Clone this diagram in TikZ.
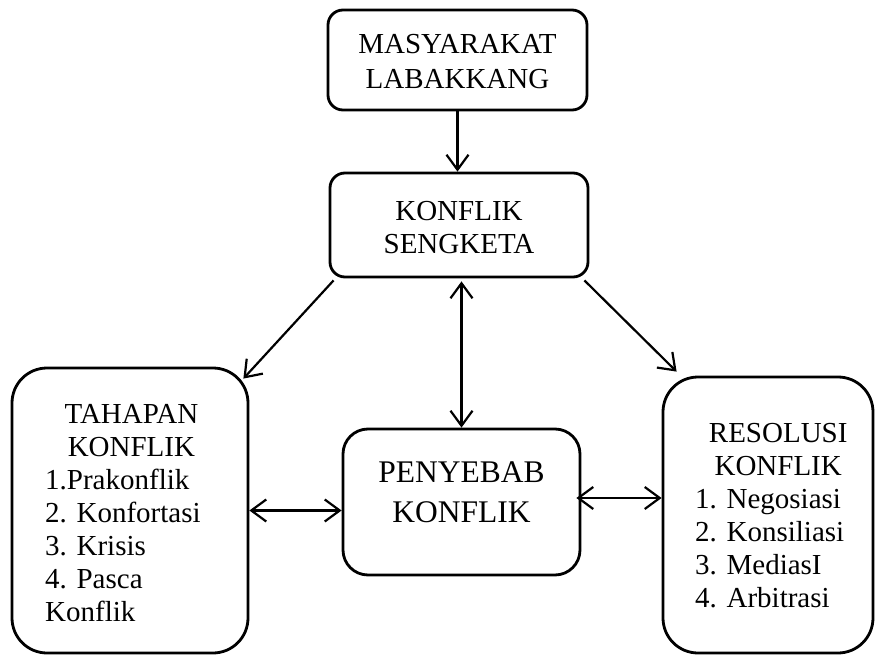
\documentclass[tikz,border=0pt]{standalone}
\usepackage{fontspec}
\setmainfont{Liberation Serif}
\usetikzlibrary{arrows.meta}
\begin{document}
\begin{tikzpicture}[x=1pt,y=-1pt,
  box/.style={draw,line width=2.8pt,inner sep=0pt},
  arr/.style={line width=2.2pt,-{Straight Barb[length=15pt,width=22pt,line width=2.2pt]}},
  darr/.style={line width=2.2pt,{Straight Barb[length=15pt,width=22pt,line width=2.2pt]}-{Straight Barb[length=15pt,width=22pt,line width=2.2pt]}},
  txt/.style={inner sep=0pt,font=\fontsize{29}{33}\selectfont},
]
\useasboundingbox (0,0) rectangle (876,655);
% boxes
\node[box,rounded corners=15pt,minimum width=259pt,minimum height=100pt] (mas) at (457.5,60) {};
\node[box,rounded corners=15pt,minimum width=258pt,minimum height=104pt] (kon) at (459,225) {};
\node[box,rounded corners=35pt,minimum width=236pt,minimum height=285pt] (tah) at (130,510.5) {};
\node[box,rounded corners=25pt,minimum width=237pt,minimum height=146pt] (pen) at (461.5,502) {};
\node[box,rounded corners=35pt,minimum width=210pt,minimum height=276pt] (res) at (768,515) {};
% texts
\node[txt,font=\fontsize{29}{35}\selectfont,anchor=north] (mast) at (457.5,28.5)
  {\begin{tabular}{@{}c@{}}MASYARAKAT\\LABAKKANG\end{tabular}};
\node[txt,anchor=north] (kont) at (459,197)
  {\begin{tabular}{@{}c@{}}KONFLIK\\SENGKETA\end{tabular}};
\node[txt,font=\fontsize{31.5}{40}\selectfont,anchor=north] (pent) at (461.5,454)
  {\begin{tabular}{@{}c@{}}PENYEBAB\\KONFLIK\end{tabular}};
\node[txt,anchor=north west] (taht) at (45,400)
  {\begin{tabular}{@{}l@{}}
   \multicolumn{1}{@{\hspace{8.5pt}}c@{\hspace{-8.5pt}}}{TAHAPAN}\\
   \multicolumn{1}{@{\hspace{8.5pt}}c@{\hspace{-8.5pt}}}{KONFLIK}\\
   1.Prakonflik\\2. Konfortasi\\3. Krisis\\4. Pasca\\Konflik\end{tabular}};
\node[txt,anchor=north west] (rest) at (695,419)
  {\begin{tabular}{@{}l@{}}
   \multicolumn{1}{@{\hspace{8.5pt}}c@{\hspace{-8.5pt}}}{RESOLUSI}\\
   \multicolumn{1}{@{\hspace{8.5pt}}c@{\hspace{-8.5pt}}}{KONFLIK}\\
   1. Negosiasi\\2. Konsiliasi\\3. MediasI\\4. Arbitrasi\end{tabular}};
% connectors
\draw[arr] (mas.south) -- (mas.south |- kon.north);
\draw[arr] ([shift={(5,2)}]kon.south west) -- ([shift={(-6,12)}]tah.north east);
\draw[arr] ([shift={(-5,2)}]kon.south east) -- ([shift={(15,-4)}]res.north west);
\coordinate (vtop) at ([shift={(0,3)}]pen.north |- kon.south);
\draw[darr] (vtop) -- (pen.north);
\draw[darr] (tah.east) -- (tah.east -| pen.west);
\coordinate (rl) at ([shift={(-5,-4)}]pen.east);
\draw[darr] (rl) -- (rl -| res.west);
\end{tikzpicture}
\end{document}
